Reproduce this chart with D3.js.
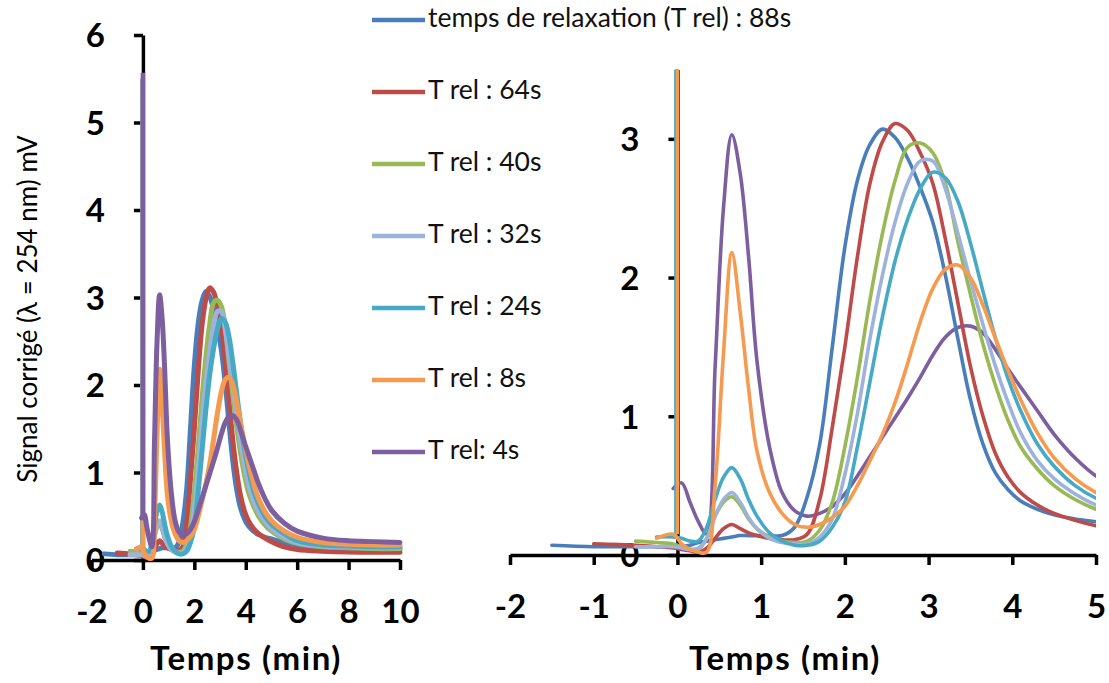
<!DOCTYPE html>
<html>
<head>
<meta charset="utf-8">
<script src="https://cdn.jsdelivr.net/npm/d3@7"></script>
<style>
  html, body { margin: 0; padding: 0; background: #fff; }
  svg { display: block; font-family: Lato, "Open Sans", sans-serif; }
</style>
</head>
<body>
<svg id="chart" width="1109" height="683"></svg>
<script>
// Sampling times (min)
const times = [-1.5, -1.0, -0.5, -0.25, -0.05, 0.05, 0.15, 0.25, 0.35, 0.45,
  0.55, 0.65, 0.75, 0.85, 0.95, 1.1, 1.25, 1.4, 1.55, 1.7,
  1.85, 2.0, 2.15, 2.3, 2.45, 2.6, 2.75, 2.9, 3.05, 3.2,
  3.35, 3.5, 3.65, 3.8, 3.95, 4.1, 4.3, 4.5, 4.75, 5.0,
  5.5, 6.0, 7.0, 8.0, 9.0, 10.0];

// Corrected signal (mV) for each relaxation time
const rel88 = [0.07, 0.06, 0.06, 0.06, 0.06, 0.06, 0.07, 0.09, 0.10, 0.11,
  0.12, 0.13, 0.14, 0.14, 0.14, 0.14, 0.14, 0.20, 0.42, 0.80,
  1.50, 2.22, 2.70, 2.96, 3.07, 3.01, 2.86, 2.65, 2.40, 2.02,
  1.56, 1.12, 0.80, 0.59, 0.47, 0.39, 0.33, 0.29, 0.26, 0.24,
  0.20, 0.17, 0.14, 0.13, 0.12, 0.12];
const rel64 = [null, 0.08, 0.07, 0.06, 0.05, 0.04, 0.03, 0.02, 0.05, 0.12,
  0.19, 0.22, 0.19, 0.16, 0.14, 0.12, 0.11, 0.11, 0.15, 0.40,
  0.92, 1.50, 2.15, 2.68, 2.98, 3.11, 3.06, 2.90, 2.68, 2.28,
  1.82, 1.36, 1.00, 0.73, 0.56, 0.45, 0.36, 0.30, 0.25, 0.21,
  0.15, 0.12, 0.10, 0.09, 0.09, 0.09];
const rel40 = [null, null, 0.10, 0.09, 0.08, 0.06, 0.04, 0.04, 0.12, 0.28,
  0.38, 0.42, 0.36, 0.26, 0.19, 0.13, 0.10, 0.09, 0.10, 0.18,
  0.38, 0.78, 1.28, 1.84, 2.32, 2.70, 2.94, 2.97, 2.90, 2.68,
  2.26, 1.88, 1.52, 1.22, 0.97, 0.78, 0.62, 0.50, 0.40, 0.33,
  0.24, 0.19, 0.15, 0.14, 0.13, 0.13];
const rel32 = [null, null, 0.06, 0.06, 0.06, 0.05, 0.04, 0.05, 0.12, 0.28,
  0.40, 0.45, 0.38, 0.27, 0.19, 0.12, 0.09, 0.08, 0.08, 0.13,
  0.26, 0.58, 1.02, 1.56, 2.02, 2.40, 2.68, 2.84, 2.84, 2.64,
  2.32, 1.98, 1.66, 1.36, 1.10, 0.88, 0.68, 0.55, 0.44, 0.36,
  0.26, 0.20, 0.16, 0.15, 0.14, 0.14];
const rel24 = [null, null, null, 0.13, 0.13, 0.12, 0.10, 0.10, 0.20, 0.40,
  0.56, 0.63, 0.55, 0.40, 0.28, 0.16, 0.10, 0.07, 0.07, 0.10,
  0.20, 0.38, 0.78, 1.25, 1.72, 2.12, 2.42, 2.64, 2.76, 2.72,
  2.55, 2.25, 1.90, 1.56, 1.27, 1.04, 0.80, 0.64, 0.50, 0.41,
  0.30, 0.22, 0.17, 0.16, 0.15, 0.15];
const rel8 = [null, null, null, 0.12, 0.15, 0.08, 0.04, 0.02, 0.02, 0.50,
  1.45, 2.18, 1.75, 1.20, 0.75, 0.45, 0.30, 0.22, 0.20, 0.22,
  0.27, 0.35, 0.50, 0.68, 0.87, 1.10, 1.38, 1.68, 1.92, 2.06,
  2.09, 2.00, 1.80, 1.56, 1.33, 1.12, 0.88, 0.70, 0.55, 0.45,
  0.33, 0.26, 0.20, 0.18, 0.17, 0.17];
const rel4 = [null, null, null, null, 0.48, 0.52, 0.38, 0.24, 0.15, 1.35,
  2.50, 3.03, 2.75, 2.15, 1.40, 0.78, 0.45, 0.32, 0.28, 0.30,
  0.35, 0.44, 0.57, 0.71, 0.85, 0.99, 1.13, 1.28, 1.44, 1.57,
  1.64, 1.65, 1.60, 1.48, 1.34, 1.21, 1.04, 0.87, 0.70, 0.57,
  0.42, 0.33, 0.25, 0.22, 0.21, 0.20];

const seriesNames = ["temps de relaxation (T rel) : 88s", "T rel : 64s", "T rel : 40s",
  "T rel : 32s", "T rel : 24s", "T rel : 8s", "T rel: 4s"];
const seriesValues = [rel88, rel64, rel40, rel32, rel24, rel8, rel4];
const seriesColors = ["#4a7ebb", "#be4b48", "#98b954", "#9db3db", "#46aac5", "#f59a4f", "#7d5fa0"];

// Injection spikes at t = 0 (series index, time, base, top)
const spikeSeries = [4, 5, 6];
const spikeTimes = [-0.02, 0, 0];
const spikeBases = [0.13, 0.15, 0.48];
const spikeTops = [5.5, 5.5, 5.57];

// Axis ticks
const leftXTicks = [-2, 0, 2, 4, 6, 8, 10];
const leftYTicks = [0, 1, 2, 3, 4, 5, 6];
const rightXTicks = [-2, -1, 0, 1, 2, 3, 4, 5];
const rightYTicks = [0, 1, 2, 3];

const svg = d3.select("#chart");
const FONT = "Lato, 'Open Sans', sans-serif";

const panels = [
  { xd: [-2, 10], yd: [0, 6], xr: [91.5, 400], yr: [560, 35], xt: leftXTicks, yt: leftYTicks,
    lw: 5, order: [0, 1, 2, 3, 4, 5, 6], titleX: 246, clip: false },
  { xd: [-2, 5], yd: [0, 3.5], xr: [510, 1096], yr: [555, 69.5], xt: rightXTicks, yt: rightYTicks,
    lw: 3.6, order: [6, 0, 1, 2, 3, 4, 5], titleX: 785, clip: true }
];

panels.forEach((p, pi) => {
  const g = svg.append("g");
  const x = d3.scaleLinear().domain(p.xd).range(p.xr);
  const y = d3.scaleLinear().domain(p.yd).range(p.yr);

  // horizontal axis
  const xa = g.append("g")
    .attr("transform", `translate(0,${y(0)})`)
    .call(d3.axisBottom(x).tickValues(p.xt).tickSize(10).tickSizeOuter(0).tickFormat(d => String(d)));
  xa.attr("font-family", FONT).attr("font-size", 33).attr("font-weight", 700);
  xa.select(".domain").attr("stroke", "#000").attr("stroke-width", 3.5);
  xa.selectAll(".tick line").attr("stroke", "#000").attr("stroke-width", 3.5);
  xa.selectAll(".tick text").attr("fill", "#000").attr("y", 51).attr("dy", "0.36em");

  // vertical axis, crossing at t = 0
  const ya = g.append("g")
    .attr("transform", `translate(${x(0)},0)`)
    .call(d3.axisLeft(y).tickValues(p.yt).tickSize(9).tickSizeOuter(0).tickPadding(29).tickFormat(d => String(d)));
  ya.attr("font-family", FONT).attr("font-size", 33).attr("font-weight", 700);
  ya.select(".domain").attr("stroke", "#000").attr("stroke-width", 3.5);
  ya.selectAll(".tick line").attr("stroke", "#000").attr("stroke-width", 3.5);
  ya.selectAll(".tick text").attr("fill", "#000").attr("dy", "0.36em");

  // axis title
  g.append("text")
    .attr("x", p.titleX).attr("y", 662)
    .attr("text-anchor", "middle").attr("dominant-baseline", "middle")
    .attr("font-family", FONT).attr("font-size", 33).attr("font-weight", 700)
    .attr("letter-spacing", 1.6)
    .text("Temps (min)");

  // plotting area
  const plot = g.append("g");
  if (p.clip) {
    const id = "clip" + pi;
    svg.append("clipPath").attr("id", id).append("rect")
      .attr("x", p.xr[0] - 3).attr("y", p.yr[1])
      .attr("width", p.xr[1] - p.xr[0] + 3).attr("height", p.yr[0] - p.yr[1] + 12);
    plot.attr("clip-path", `url(#${id})`);
  }

  const line = d3.line()
    .defined(d => d.v != null)
    .x(d => x(d.t)).y(d => y(d.v))
    .curve(d3.curveCatmullRom.alpha(0.5));

  p.order.forEach(si => {
    const pts = times.map((t, i) => ({ t, v: seriesValues[si][i] }));
    const k = spikeSeries.indexOf(si);
    if (k >= 0) {
      plot.append("line")
        .attr("x1", x(spikeTimes[k])).attr("x2", x(spikeTimes[k]))
        .attr("y1", y(spikeBases[k])).attr("y2", y(spikeTops[k]))
        .attr("stroke", seriesColors[si]).attr("stroke-width", p.lw * 0.9);
    }
    plot.append("path")
      .attr("d", line(pts))
      .attr("fill", "none")
      .attr("stroke", seriesColors[si])
      .attr("stroke-width", p.lw)
      .attr("stroke-linejoin", "round")
      .attr("stroke-linecap", "round");
  });
});

// y-axis title of the full-range panel
svg.append("text")
  .attr("transform", "translate(30,309) rotate(-90)")
  .attr("text-anchor", "middle").attr("dominant-baseline", "middle")
  .attr("font-family", FONT).attr("font-size", 26).attr("font-weight", 400)
  .attr("fill", "#000")
  .text("Signal  corrigé (λ = 254 nm) mV");

// legend
const legend = svg.append("g").attr("font-family", FONT).attr("font-size", 26.5);
seriesNames.forEach((name, i) => {
  const yy = 20 + i * 72;
  legend.append("line")
    .attr("x1", 372).attr("x2", 425).attr("y1", yy).attr("y2", yy)
    .attr("stroke", seriesColors[i]).attr("stroke-width", 4.5);
  legend.append("text")
    .attr("x", 428).attr("y", yy).attr("dominant-baseline", "middle")
    .attr("fill", "#111")
    .text(name);
});
</script>
</body>
</html>
